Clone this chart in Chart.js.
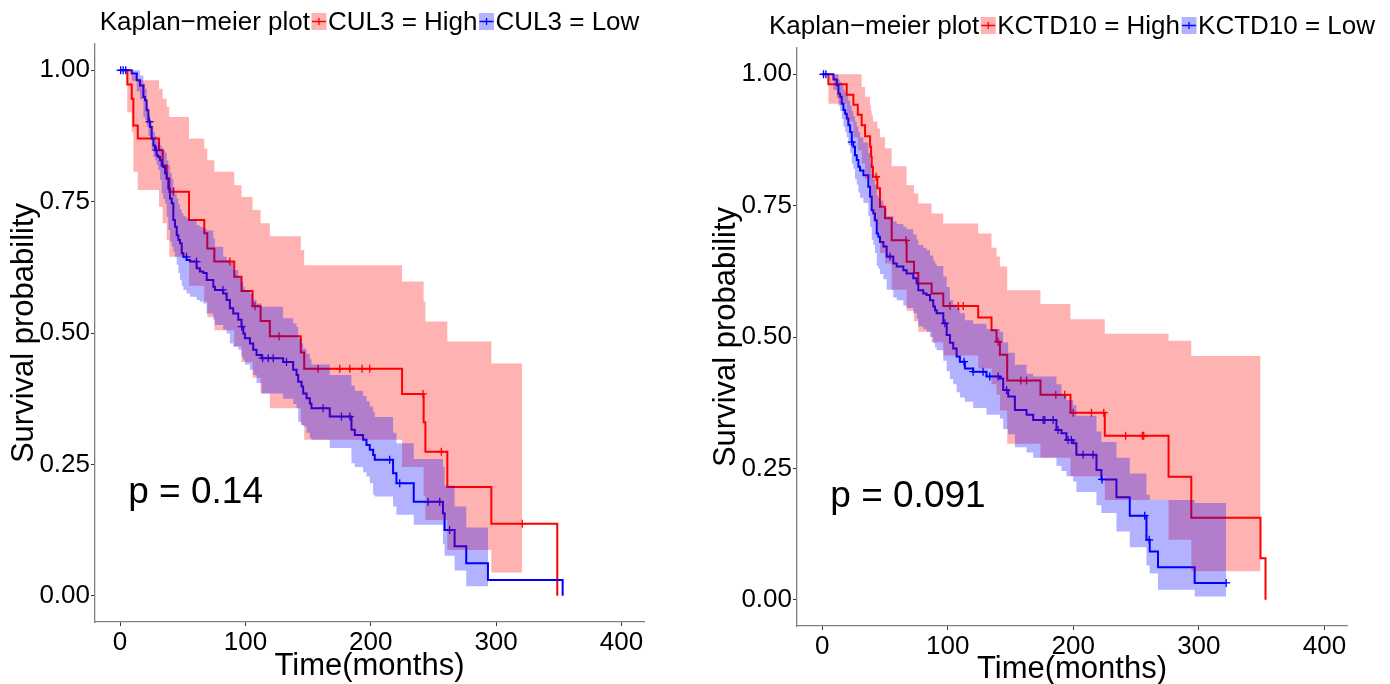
<!DOCTYPE html>
<html><head><meta charset="utf-8">
<script src="https://cdn.jsdelivr.net/npm/chart.js@4/dist/chart.umd.min.js"></script>
<style>
html,body{margin:0;padding:0;background:#fff;}
#wrap{position:relative;width:1390px;height:684px;overflow:hidden;}
.panel{position:absolute;top:0;width:695px;height:684px;}
</style></head><body>
<div id="wrap">
<div class="panel" style="left:0"><canvas id="c1" width="695" height="684"></canvas></div>
<div class="panel" style="left:695px"><canvas id="c2" width="695" height="684"></canvas></div>
</div>
<script>
// ---------- tick labels ----------
const xTicks = [0, 100, 200, 300, 400];
const xTickLabels = ['0', '100', '200', '300', '400'];
const yTicks = [0, 0.25, 0.5, 0.75, 1];
const yTickLabels = ['0.00', '0.25', '0.50', '0.75', '1.00'];

// ---------- CUL3 = High ----------
const cul3HighTime = [0, 5.8, 9.3, 10.6, 14.1, 31.1, 34.0, 37.2, 39.3, 55.0, 67.2, 69.6, 75.2, 91.1, 96.9, 105.7, 112.1, 119.5, 144.2, 146.9, 225.0, 242.2, 243.6, 261.1, 296.2, 348.8];
const cul3HighSurv = [1.0, 0.973, 0.946, 0.895, 0.870, 0.848, 0.819, 0.794, 0.769, 0.715, 0.690, 0.661, 0.636, 0.607, 0.580, 0.551, 0.523, 0.494, 0.463, 0.432, 0.384, 0.330, 0.274, 0.207, 0.137, 0.0];
const cul3HighCensor = [42.5, 87.6, 107.6, 126.9, 158.0, 175.3, 183.3, 193.1, 199.2, 241.7, 256.3, 320.9];
const cul3HighBandTime = [0, 5.8, 9.3, 10.6, 14.1, 31.1, 34.0, 37.2, 39.3, 55.0, 67.2, 69.6, 75.2, 91.1, 96.9, 105.7, 112.1, 119.5, 144.2, 146.9, 225.0, 242.2, 243.6, 261.1, 296.2, 320.9];
const cul3HighUpper = [1, 1, 1, 0.99, 0.981, 0.965, 0.946, 0.93, 0.911, 0.870, 0.851, 0.829, 0.807, 0.781, 0.759, 0.734, 0.709, 0.684, 0.658, 0.629, 0.598, 0.56, 0.522, 0.484, 0.442, 0.442];
const cul3HighLower = [1, 0.92, 0.883, 0.807, 0.772, 0.740, 0.709, 0.677, 0.645, 0.59, 0.56, 0.53, 0.505, 0.475, 0.445, 0.415, 0.385, 0.357, 0.325, 0.297, 0.245, 0.19, 0.144, 0.087, 0.044, 0.044];

// ---------- CUL3 = Low ----------
const cul3LowTime = [0, 9.3, 13.3, 15.9, 18.6, 19.9, 21.2, 22.6, 23.9, 25.2, 26.6, 27.9, 29.2, 30.5, 31.9, 33.2, 34.5, 35.9, 37.2, 38.5, 39.8, 41.2, 42.5, 43.8, 45.2, 46.5, 47.8, 49.2, 50.5, 53.1, 55.8, 61.1, 63.7, 66.4, 69.1, 74.4, 75.7, 82.3, 85.0, 87.6, 90.3, 94.3, 96.9, 98.3, 99.6, 103.6, 106.2, 108.9, 112.9, 130.1, 138.1, 140.8, 142.1, 144.8, 146.1, 148.8, 151.4, 152.7, 167.3, 184.6, 187.3, 193.9, 196.6, 199.2, 201.9, 203.2, 217.8, 220.5, 234.3, 257.6, 258.9, 266.9, 276.2, 293.5, 353.1];
const cul3LowSurv = [1, 0.994, 0.981, 0.971, 0.949, 0.943, 0.924, 0.902, 0.892, 0.870, 0.857, 0.848, 0.838, 0.835, 0.829, 0.819, 0.816, 0.804, 0.794, 0.775, 0.756, 0.747, 0.715, 0.702, 0.686, 0.677, 0.671, 0.652, 0.645, 0.639, 0.636, 0.623, 0.617, 0.614, 0.601, 0.588, 0.582, 0.575, 0.563, 0.547, 0.537, 0.525, 0.512, 0.499, 0.490, 0.480, 0.468, 0.458, 0.452, 0.445, 0.430, 0.420, 0.407, 0.398, 0.385, 0.376, 0.366, 0.357, 0.341, 0.316, 0.306, 0.297, 0.287, 0.278, 0.268, 0.259, 0.233, 0.214, 0.179, 0.157, 0.125, 0.094, 0.062, 0.030, 0];
const cul3LowCensor = [0.5, 2.5, 4.5, 23.5, 29.0, 53.0, 61.0, 82.0, 97.0, 113.7, 118.2, 122.2, 132.8, 162.0, 176.6, 183.3, 215.1, 223.1, 245.7, 255.0, 262.9];
const cul3LowBandTime = [0, 9.3, 13.3, 15.9, 18.6, 19.9, 21.2, 22.6, 23.9, 25.2, 26.6, 27.9, 29.2, 30.5, 31.9, 33.2, 34.5, 35.9, 37.2, 38.5, 39.8, 41.2, 42.5, 43.8, 45.2, 46.5, 47.8, 49.2, 50.5, 53.1, 55.8, 61.1, 63.7, 66.4, 69.1, 74.4, 75.7, 82.3, 85.0, 87.6, 90.3, 94.3, 96.9, 98.3, 99.6, 103.6, 106.2, 108.9, 112.9, 130.1, 138.1, 140.8, 142.1, 144.8, 146.1, 148.8, 151.4, 152.7, 167.3, 184.6, 187.3, 193.9, 196.6, 199.2, 201.9, 203.2, 217.8, 220.5, 234.3, 257.6, 258.9, 266.9, 276.2, 293.5];
const cul3LowUpper = [1, 1.0, 1.0, 0.99, 0.975, 0.965, 0.93, 0.915, 0.905, 0.895, 0.883, 0.875, 0.867, 0.862, 0.857, 0.852, 0.848, 0.843, 0.829, 0.82, 0.805, 0.794, 0.778, 0.765, 0.756, 0.745, 0.735, 0.728, 0.722, 0.718, 0.715, 0.705, 0.702, 0.699, 0.695, 0.68, 0.664, 0.645, 0.639, 0.633, 0.62, 0.607, 0.598, 0.588, 0.582, 0.575, 0.563, 0.556, 0.55, 0.528, 0.518, 0.512, 0.49, 0.48, 0.47, 0.46, 0.45, 0.44, 0.42, 0.40, 0.39, 0.38, 0.37, 0.36, 0.35, 0.34, 0.31, 0.29, 0.26, 0.245, 0.21, 0.17, 0.13, 0.13];
const cul3LowLower = [1, 0.98, 0.96, 0.945, 0.911, 0.905, 0.892, 0.875, 0.867, 0.848, 0.835, 0.829, 0.82, 0.81, 0.791, 0.766, 0.755, 0.747, 0.721, 0.696, 0.674, 0.665, 0.655, 0.645, 0.63, 0.614, 0.601, 0.59, 0.582, 0.575, 0.569, 0.563, 0.56, 0.556, 0.537, 0.525, 0.515, 0.506, 0.499, 0.48, 0.474, 0.468, 0.455, 0.449, 0.44, 0.43, 0.42, 0.405, 0.385, 0.375, 0.365, 0.357, 0.331, 0.325, 0.322, 0.31, 0.30, 0.297, 0.281, 0.252, 0.245, 0.235, 0.227, 0.214, 0.192, 0.189, 0.17, 0.154, 0.135, 0.098, 0.076, 0.048, 0.018, 0.018];

// ---------- KCTD10 = High ----------
const kctd10HighTime = [0, 5.0, 19.6, 24.9, 28.4, 31.5, 34.2, 38.2, 39.0, 39.5, 40.5, 44.0, 46.1, 50.1, 55.4, 67.3, 73.2, 76.6, 87.2, 96.5, 124.3, 134.9, 138.9, 141.6, 147.4, 173.9, 197.8, 225.1, 275.9, 294.0, 349.1, 353.1];
const kctd10HighSurv = [1.0, 0.981, 0.961, 0.942, 0.923, 0.903, 0.882, 0.862, 0.843, 0.824, 0.805, 0.783, 0.748, 0.726, 0.684, 0.643, 0.622, 0.602, 0.583, 0.559, 0.537, 0.513, 0.491, 0.466, 0.417, 0.390, 0.356, 0.312, 0.234, 0.156, 0.079, 0];
const kctd10HighCensor = [43.0, 66.8, 101.8, 108.4, 112.4, 140.2, 158.3, 162.8, 186.1, 193.2, 199.9, 214.5, 224.3, 241.7, 255.0, 256.1];
const kctd10HighBandTime = [0, 5.0, 19.6, 24.9, 28.4, 31.5, 34.2, 38.2, 39.0, 39.5, 40.5, 44.0, 46.1, 50.1, 55.4, 67.3, 73.2, 76.6, 87.2, 96.5, 124.3, 134.9, 138.9, 141.6, 147.4, 173.9, 197.8, 225.1, 275.9, 294.0, 349.1];
const kctd10HighUpper = [1, 1, 1, 1, 1, 0.976, 0.957, 0.94, 0.93, 0.922, 0.91, 0.897, 0.88, 0.859, 0.825, 0.789, 0.773, 0.754, 0.735, 0.716, 0.697, 0.67, 0.653, 0.634, 0.589, 0.563, 0.534, 0.506, 0.493, 0.464, 0.464];
const kctd10HighLower = [1, 0.944, 0.91, 0.88, 0.855, 0.83, 0.80, 0.775, 0.76, 0.74, 0.72, 0.70, 0.66, 0.64, 0.59, 0.55, 0.53, 0.51, 0.49, 0.465, 0.44, 0.41, 0.39, 0.36, 0.297, 0.27, 0.235, 0.19, 0.114, 0.054, 0.054];

// ---------- KCTD10 = Low ----------
const kctd10LowTime = [0, 9.0, 11.7, 13.0, 14.3, 15.6, 17.0, 18.3, 19.6, 20.9, 22.3, 23.6, 24.9, 26.2, 27.6, 28.9, 30.2, 32.9, 36.8, 38.2, 39.5, 40.8, 42.1, 43.5, 44.8, 46.1, 48.8, 51.4, 56.7, 59.4, 64.7, 67.3, 72.6, 75.3, 76.6, 80.6, 83.2, 85.9, 88.5, 89.9, 91.2, 96.5, 99.2, 101.8, 104.4, 107.1, 109.7, 113.7, 120.3, 130.9, 141.6, 144.2, 148.2, 153.5, 162.8, 168.1, 186.6, 190.6, 194.6, 199.9, 202.5, 218.5, 222.4, 234.4, 245.0, 258.3, 260.9, 267.5, 296.7, 321.8];
const kctd10LowSurv = [1, 0.99, 0.979, 0.963, 0.957, 0.944, 0.932, 0.925, 0.916, 0.903, 0.890, 0.871, 0.862, 0.846, 0.837, 0.824, 0.817, 0.808, 0.786, 0.767, 0.741, 0.735, 0.722, 0.697, 0.691, 0.681, 0.672, 0.653, 0.640, 0.634, 0.627, 0.621, 0.612, 0.602, 0.589, 0.583, 0.580, 0.570, 0.558, 0.551, 0.545, 0.526, 0.504, 0.489, 0.478, 0.463, 0.453, 0.440, 0.434, 0.425, 0.421, 0.399, 0.387, 0.361, 0.352, 0.342, 0.323, 0.317, 0.304, 0.298, 0.276, 0.247, 0.229, 0.195, 0.160, 0.114, 0.092, 0.062, 0.032, 0.032];
const kctd10LowCensor = [1.1, 3.0, 23.6, 54.1, 97.8, 113.0, 120.3, 128.2, 133.5, 140.2, 146.9, 176.0, 177.3, 184.0, 187.9, 195.9, 198.5, 207.8, 215.8, 222.9, 256.9, 260.5, 321.8];
const kctd10LowBandTime = [0, 9.0, 11.7, 13.0, 14.3, 15.6, 17.0, 18.3, 19.6, 20.9, 22.3, 23.6, 24.9, 26.2, 27.6, 28.9, 30.2, 32.9, 36.8, 38.2, 39.5, 40.8, 42.1, 43.5, 44.8, 46.1, 48.8, 51.4, 56.7, 59.4, 64.7, 67.3, 72.6, 75.3, 76.6, 80.6, 83.2, 85.9, 88.5, 89.9, 91.2, 96.5, 99.2, 101.8, 104.4, 107.1, 109.7, 113.7, 120.3, 130.9, 141.6, 144.2, 148.2, 153.5, 162.8, 168.1, 186.6, 190.6, 194.6, 199.9, 202.5, 218.5, 222.4, 234.4, 245.0, 258.3, 260.9, 267.5, 296.7, 321.8];
const kctd10LowUpper = [1, 1, 1, 0.99, 0.985, 0.98, 0.97, 0.965, 0.96, 0.95, 0.94, 0.93, 0.92, 0.91, 0.9, 0.89, 0.88, 0.87, 0.85, 0.83, 0.81, 0.8, 0.79, 0.77, 0.765, 0.76, 0.745, 0.73, 0.72, 0.715, 0.71, 0.705, 0.695, 0.685, 0.675, 0.67, 0.665, 0.655, 0.645, 0.64, 0.635, 0.615, 0.595, 0.57, 0.562, 0.555, 0.545, 0.532, 0.525, 0.515, 0.51, 0.49, 0.47, 0.447, 0.43, 0.425, 0.41, 0.39, 0.38, 0.37, 0.35, 0.32, 0.30, 0.27, 0.24, 0.2, 0.19, 0.19, 0.184, 0.184];
const kctd10LowLower = [1, 0.97, 0.955, 0.94, 0.93, 0.915, 0.9, 0.89, 0.88, 0.865, 0.85, 0.83, 0.82, 0.80, 0.79, 0.775, 0.765, 0.755, 0.73, 0.71, 0.685, 0.675, 0.66, 0.635, 0.63, 0.62, 0.61, 0.59, 0.575, 0.57, 0.56, 0.555, 0.545, 0.535, 0.52, 0.515, 0.51, 0.5, 0.488, 0.48, 0.475, 0.455, 0.435, 0.42, 0.41, 0.395, 0.385, 0.377, 0.365, 0.352, 0.345, 0.325, 0.315, 0.29, 0.28, 0.27, 0.255, 0.245, 0.235, 0.225, 0.205, 0.18, 0.165, 0.13, 0.1, 0.065, 0.05, 0.019, 0.006, 0.006];

// ---------- helpers ----------
const FONT = '"Liberation Sans", Arial, Helvetica, sans-serif';
const RED = '#ff0000', BLUE = '#0000ff';
const PINK_FILL = 'rgba(255,0,0,0.3)', BLUE_FILL = 'rgba(0,0,255,0.3)';

function pts(t, v) { return t.map((x, i) => ({x: x, y: v[i]})); }
function survAt(t, s, x) { let v = s[0]; for (let i = 0; i < t.length; i++) { if (t[i] <= x) v = s[i]; } return v; }
function censorPts(ct, t, s) { return ct.map(x => ({x: x, y: survAt(t, s, x)})); }

const headerPlugin = {
  id: 'kmHeader',
  afterDraw(chart, args, o) {
    const {ctx, chartArea} = chart;
    ctx.save();
    ctx.font = '26px ' + FONT;
    ctx.textBaseline = 'alphabetic';
    const boxW = 15, boxH = 17, gap = 1.5;
    let total = ctx.measureText(o.title).width;
    o.items.forEach(it => { total += gap + boxW + gap + ctx.measureText(it.text).width; });
    let x = (chartArea.left + chartArea.right) / 2 - total / 2;
    const by = o.baseline;
    ctx.fillStyle = '#000';
    ctx.fillText(o.title, x, by);
    x += ctx.measureText(o.title).width;
    o.items.forEach(it => {
      x += gap;
      ctx.fillStyle = it.fill;
      const top = by - 17;
      ctx.fillRect(x, top, boxW, boxH);
      const my = top + boxH / 2;
      ctx.strokeStyle = it.line;
      ctx.lineWidth = 1.3;
      ctx.beginPath();
      ctx.moveTo(x + 0.5, my); ctx.lineTo(x + boxW - 0.5, my);
      ctx.moveTo(x + boxW / 2, my - 3.5); ctx.lineTo(x + boxW / 2, my + 3.5);
      ctx.stroke();
      x += boxW + gap;
      ctx.fillStyle = '#000';
      ctx.fillText(it.text, x, by);
      x += ctx.measureText(it.text).width;
    });
    ctx.restore();
  }
};

const pvalPlugin = {
  id: 'kmPval',
  afterDatasetsDraw(chart, args, o) {
    const {ctx, scales} = chart;
    ctx.save();
    ctx.font = '37px ' + FONT;
    ctx.fillStyle = '#000';
    ctx.textAlign = 'left';
    ctx.textBaseline = 'middle';
    ctx.fillText(o.text, scales.x.getPixelForValue(o.x), scales.y.getPixelForValue(o.y));
    ctx.restore();
  }
};

function makeChart(id, g, lay) {
  const datasets = [
    {data: pts(g.lowBandTime, g.lowUpper), stepped: true, borderColor: 'rgba(0,0,0,0)', borderWidth: 0, pointRadius: 0, fill: '+1', backgroundColor: BLUE_FILL},
    {data: pts(g.lowBandTime, g.lowLower), stepped: true, borderColor: 'rgba(0,0,0,0)', borderWidth: 0, pointRadius: 0, fill: false},
    {data: pts(g.highBandTime, g.highUpper), stepped: true, borderColor: 'rgba(0,0,0,0)', borderWidth: 0, pointRadius: 0, fill: '+1', backgroundColor: PINK_FILL},
    {data: pts(g.highBandTime, g.highLower), stepped: true, borderColor: 'rgba(0,0,0,0)', borderWidth: 0, pointRadius: 0, fill: false},
    {data: censorPts(g.lowCensor, g.lowTime, g.lowSurv), showLine: false, pointStyle: 'cross', pointRadius: 4, pointBorderWidth: 1.3, borderColor: BLUE, pointBorderColor: BLUE},
    {data: censorPts(g.highCensor, g.highTime, g.highSurv), showLine: false, pointStyle: 'cross', pointRadius: 4, pointBorderWidth: 1.3, borderColor: RED, pointBorderColor: RED},
    {data: pts(g.lowTime, g.lowSurv), stepped: true, borderColor: BLUE, borderWidth: 2, pointRadius: 0, fill: false},
    {data: pts(g.highTime, g.highSurv), stepped: true, borderColor: RED, borderWidth: 2, pointRadius: 0, fill: false}
  ];
  return new Chart(document.getElementById(id), {
    type: 'line',
    data: {datasets: datasets},
    plugins: [headerPlugin, pvalPlugin],
    options: {
      responsive: false,
      animation: false,
      events: [],
      layout: {padding: lay.padding},
      plugins: {
        legend: {display: false},
        tooltip: {enabled: false},
        kmHeader: {title: 'Kaplan\u2212meier plot', baseline: lay.headerBase, items: [
          {text: g.highName, fill: PINK_FILL, line: RED},
          {text: g.lowName, fill: BLUE_FILL, line: BLUE}
        ]},
        kmPval: {text: g.pval, x: 6.5, y: 0.195}
      },
      scales: {
        x: {
          type: 'linear', min: -20, max: 418,
          afterBuildTicks: s => { s.ticks = xTicks.map(v => ({value: v})); },
          afterFit: s => { s.height = lay.xHeight; },
          ticks: {font: {family: FONT, size: 26}, color: '#000', padding: lay.xTickPad, maxRotation: 0, autoSkip: false,
                  callback: v => xTickLabels[xTicks.indexOf(v)]},
          grid: {drawOnChartArea: false, drawTicks: true, tickLength: 4, color: '#333', lineWidth: 1},
          border: {display: true, color: '#808080', width: 1.3},
          title: {display: true, text: 'Time(months)', font: {family: FONT, size: 31}, color: '#000', padding: {top: 0, bottom: lay.xTitlePad}}
        },
        y: {
          type: 'linear', min: -0.05, max: 1.05,
          afterBuildTicks: s => { s.ticks = yTicks.map(v => ({value: v})); },
          afterFit: s => { s.width = 95; },
          ticks: {font: {family: FONT, size: 26}, color: '#000', padding: 1, autoSkip: false,
                  callback: v => yTickLabels[yTicks.indexOf(v)]},
          grid: {drawOnChartArea: false, drawTicks: true, tickLength: 4, color: '#333', lineWidth: 1},
          border: {display: true, color: '#808080', width: 1.3},
          title: {display: true, text: 'Survival probability', font: {family: FONT, size: 31}, color: '#000', padding: {top: 6, bottom: 0}}
        }
      }
    }
  });
}

makeChart('c1', {
  highName: 'CUL3 = High', lowName: 'CUL3 = Low', pval: 'p = 0.14',
  highTime: cul3HighTime, highSurv: cul3HighSurv, highCensor: cul3HighCensor,
  highBandTime: cul3HighBandTime, highUpper: cul3HighUpper, highLower: cul3HighLower,
  lowTime: cul3LowTime, lowSurv: cul3LowSurv, lowCensor: cul3LowCensor,
  lowBandTime: cul3LowBandTime, lowUpper: cul3LowUpper, lowLower: cul3LowLower
}, {padding: {left: 0, right: 51, top: 44, bottom: 0}, xHeight: 62, xTickPad: 1, xTitlePad: -1, headerBase: 30});

makeChart('c2', {
  highName: 'KCTD10 = High', lowName: 'KCTD10 = Low', pval: 'p = 0.091',
  highTime: kctd10HighTime, highSurv: kctd10HighSurv, highCensor: kctd10HighCensor,
  highBandTime: kctd10HighBandTime, highUpper: kctd10HighUpper, highLower: kctd10HighLower,
  lowTime: kctd10LowTime, lowSurv: kctd10LowSurv, lowCensor: kctd10LowCensor,
  lowBandTime: kctd10LowBandTime, lowUpper: kctd10LowUpper, lowLower: kctd10LowLower
}, {padding: {left: 7, right: 43, top: 48, bottom: 0}, xHeight: 58, xTickPad: 1, xTitlePad: -4, headerBase: 34});
</script>
</body></html>
